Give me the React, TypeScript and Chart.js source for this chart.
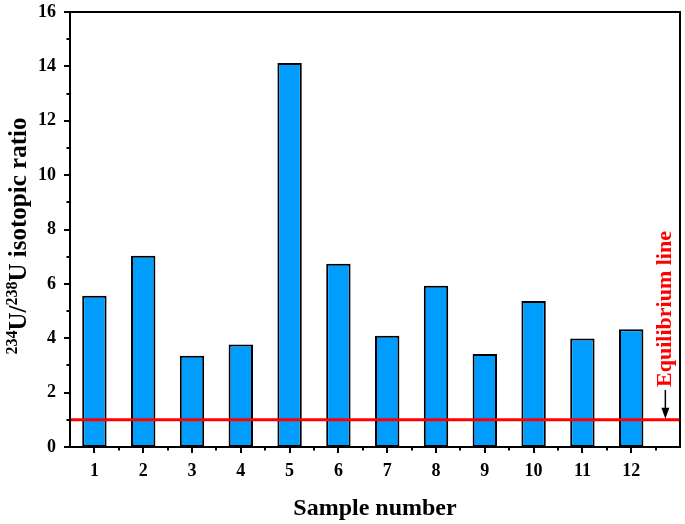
import React, { useEffect, useRef } from 'react';
import { Chart, registerables } from 'chart.js';

Chart.register(...registerables);

const FONT = '"Liberation Serif", "Times New Roman", serif';

const sampleNumbers = [1, 2, 3, 4, 5, 6, 7, 8, 9, 10, 11, 12];
const ratioValues = [5.56, 7.03, 3.36, 3.77, 14.12, 6.74, 4.09, 5.93, 3.42, 5.37, 3.99, 4.33];
const equilibriumValue = 1;
const xRange = [0.5, 13];
const yRange = [0, 16];
const yMajorTicks = [0, 2, 4, 6, 8, 10, 12, 14, 16];
const yMinorTicks = [1, 3, 5, 7, 9, 11, 13, 15];
const xMajorTicks = [1, 2, 3, 4, 5, 6, 7, 8, 9, 10, 11, 12];
const xMinorTicks = [1.5, 2.5, 3.5, 4.5, 5.5, 6.5, 7.5, 8.5, 9.5, 10.5, 11.5, 12.5];
const xTitle = 'Sample number';
const annotationText = 'Equilibrium line';

const decorPlugin = {
  id: 'decor',
  afterDraw(chart: any) {
    const { ctx, chartArea, scales } = chart;
    const x = scales.x;
    const y = scales.y;
    ctx.save();
    // frame
    ctx.strokeStyle = '#000';
    ctx.lineWidth = 2;
    ctx.strokeRect(chartArea.left, chartArea.top, chartArea.right - chartArea.left, chartArea.bottom - chartArea.top);
    // ticks
    ctx.lineWidth = 2;
    ctx.beginPath();
    yMajorTicks.forEach((v) => {
      const py = Math.round(y.getPixelForValue(v));
      ctx.moveTo(chartArea.left - 6, py);
      ctx.lineTo(chartArea.left, py);
    });
    yMinorTicks.forEach((v) => {
      const py = Math.round(y.getPixelForValue(v));
      ctx.moveTo(chartArea.left - 3.5, py);
      ctx.lineTo(chartArea.left, py);
    });
    xMajorTicks.forEach((v) => {
      const px = Math.round(x.getPixelForValue(v));
      ctx.moveTo(px, chartArea.bottom);
      ctx.lineTo(px, chartArea.bottom + 6);
    });
    xMinorTicks.forEach((v) => {
      const px = Math.round(x.getPixelForValue(v));
      ctx.moveTo(px, chartArea.bottom);
      ctx.lineTo(px, chartArea.bottom + 3.5);
    });
    ctx.stroke();

    // x title
    ctx.fillStyle = '#000';
    ctx.font = `bold 24px ${FONT}`;
    ctx.textAlign = 'center';
    ctx.textBaseline = 'alphabetic';
    ctx.fillText(xTitle, (chartArea.left + chartArea.right) / 2, 515);

    // y title with superscripts
    const big = `bold 25px ${FONT}`;
    const small = `bold 16px ${FONT}`;
    const parts: [string, boolean][] = [
      ['234', true],
      ['U/', false],
      ['238', true],
      ['U isotopic ratio', false],
    ];
    let total = 0;
    parts.forEach(([t, s]) => {
      ctx.font = s ? small : big;
      total += ctx.measureText(t).width;
    });
    ctx.save();
    ctx.translate(26, 236);
    ctx.rotate(-Math.PI / 2);
    let cx = -total / 2;
    ctx.textAlign = 'left';
    parts.forEach(([t, s]) => {
      ctx.font = s ? small : big;
      ctx.fillText(t, cx, s ? -9 : 0);
      cx += ctx.measureText(t).width;
    });
    ctx.restore();

    // annotation
    const ax = x.getPixelForValue(12.7);
    const lineY = y.getPixelForValue(equilibriumValue);
    ctx.save();
    ctx.translate(ax + 6, 309);
    ctx.rotate(-Math.PI / 2);
    ctx.fillStyle = '#ff0000';
    ctx.font = `bold 22px ${FONT}`;
    ctx.textAlign = 'center';
    ctx.fillText(annotationText, 0, 0);
    ctx.restore();
    ctx.strokeStyle = '#000';
    ctx.fillStyle = '#000';
    ctx.lineWidth = 1.5;
    ctx.beginPath();
    ctx.moveTo(ax, 390);
    ctx.lineTo(ax, lineY - 8);
    ctx.stroke();
    ctx.beginPath();
    ctx.moveTo(ax - 4, lineY - 12);
    ctx.lineTo(ax + 4, lineY - 12);
    ctx.lineTo(ax, lineY - 1);
    ctx.closePath();
    ctx.fill();
    ctx.restore();
  },
};

export default function App() {
  const ref = useRef<HTMLCanvasElement>(null);
  useEffect(() => {
    document.body.style.margin = '0';
    const chart = new Chart(ref.current!, {
      type: 'bar',
      data: {
        datasets: [
          {
            type: 'line',
            data: [
              { x: xRange[0], y: equilibriumValue },
              { x: xRange[1], y: equilibriumValue },
            ],
            borderColor: '#ff0000',
            borderWidth: 3,
            pointRadius: 0,
            order: 0,
          } as any,
          {
            type: 'bar',
            data: sampleNumbers.map((n, i) => ({ x: n, y: ratioValues[i] })),
            backgroundColor: '#009dff',
            borderColor: '#000',
            borderWidth: 2,
            borderSkipped: false,
            barPercentage: 0.5,
            categoryPercentage: 1,
            order: 1,
          } as any,
        ],
      },
      options: {
        responsive: false,
        devicePixelRatio: 1,
        animation: false,
        layout: { padding: { top: 12, right: 5, left: 0, bottom: 0 } },
        plugins: { legend: { display: false }, tooltip: { enabled: false } },
        scales: {
          x: {
            type: 'linear',
            offset: false,
            min: xRange[0],
            max: xRange[1],
            grid: { display: false, drawTicks: false, offset: false },
            border: { display: false },
            afterBuildTicks: (s: any) => {
              s.ticks = xMajorTicks.map((v) => ({ value: v }));
            },
            afterFit: (s: any) => {
              s.height = 77;
              s.paddingLeft = 0;
              s.paddingRight = 0;
            },
            ticks: {
              autoSkip: false,
              maxRotation: 0,
              padding: 14,
              color: '#000',
              font: { family: FONT, size: 18, weight: 'bold' },
              callback: (v: any) => String(v),
            },
          },
          y: {
            min: yRange[0],
            max: yRange[1],
            grid: { display: false, drawTicks: false },
            border: { display: false },
            afterBuildTicks: (s: any) => {
              s.ticks = yMajorTicks.map((v) => ({ value: v }));
            },
            afterFit: (s: any) => {
              s.width = 70;
              s.paddingTop = 0;
              s.paddingBottom = 0;
            },
            ticks: {
              padding: 14,
              color: '#000',
              font: { family: FONT, size: 18, weight: 'bold' },
              callback: (v: any) => String(v),
            },
          },
        },
      },
      plugins: [decorPlugin],
    } as any);
    return () => {
      chart.destroy();
    };
  }, []);
  return (
    <div style={{ width: 685, height: 524, background: '#fff' }}>
      <canvas ref={ref} width={685} height={524} style={{ width: 685, height: 524, display: 'block' }} />
    </div>
  );
}
